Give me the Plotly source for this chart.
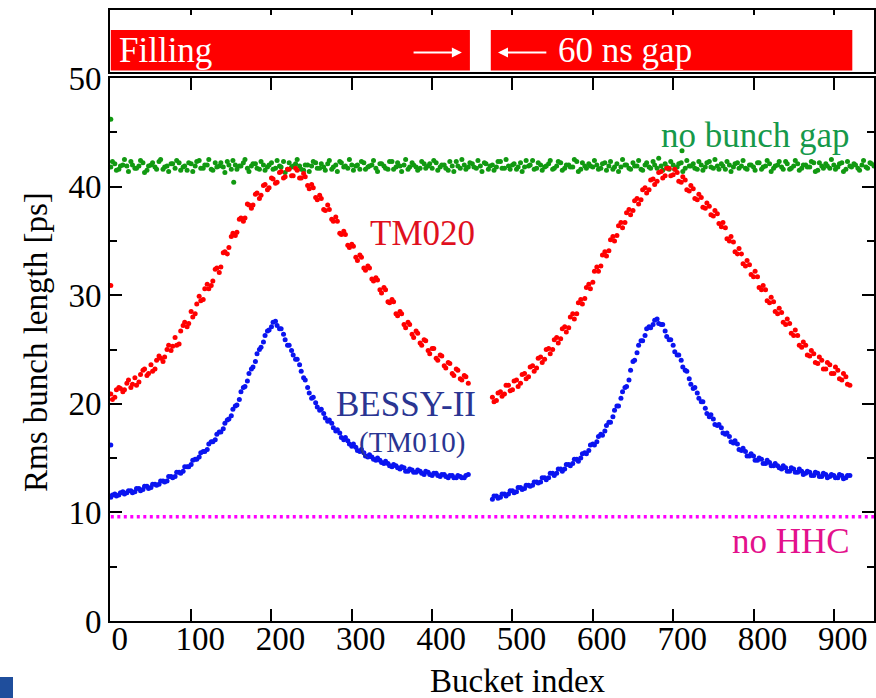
import plotly.graph_objects as go

FONT = "Liberation Serif"

# ---------------- data ----------------
# bucket indices (two interleaved samplings of every 5th bucket)
green_x = list(range(0, 951, 5))
green_x2 = list(range(2, 951, 5))
left_x = list(range(0, 446, 5))
left_x2 = list(range(2, 446, 5))
right_x = list(range(475, 921, 5))
right_x2 = list(range(477, 921, 5))

green_y = [
    41.8, 42.1, 41.6, 42.0, 41.9, 42.3, 41.7, 41.9, 42.2, 41.5,
    42.0, 41.8, 42.3, 41.6, 41.9, 42.1, 41.7, 42.2, 41.8, 41.5,
    42.1, 41.9, 42.4, 41.7, 42.0, 41.6, 42.2, 41.9, 41.8, 42.3,
    41.6, 42.0, 41.9, 42.2, 41.7, 41.9, 42.1, 41.6, 42.0, 41.8,
    42.2, 41.7, 41.9, 42.3, 41.6, 41.8, 42.1, 41.9, 41.5, 42.0,
    41.9, 42.2, 41.7, 41.8, 42.1, 41.6, 42.0, 42.3, 41.8, 41.7,
    42.0, 41.9, 41.6, 42.2, 41.8, 42.0, 41.7, 42.1, 41.9, 41.6,
    42.3, 41.8, 41.9, 42.0, 41.6, 42.2, 41.8, 41.7, 42.1, 41.9,
    41.7, 42.2, 41.8, 42.0, 41.5, 41.9, 42.3, 41.7, 42.0, 41.8,
    42.1, 41.7, 41.9, 42.2, 41.6, 42.0, 41.8, 42.3, 41.7, 41.9,
    42.0, 41.6, 42.2, 41.8, 41.9, 42.4, 41.7, 42.0, 41.8, 42.1,
    41.6, 41.9, 42.2, 41.7, 42.0, 41.8, 42.3, 41.6, 41.9, 42.1,
    41.8, 42.0, 41.7, 42.2, 41.9, 41.6, 42.1, 41.8, 42.0, 41.7,
    42.2, 41.9, 41.6, 42.0, 41.8, 42.3, 41.7, 41.9, 42.1, 41.6,
    42.0, 41.8, 42.2, 41.7, 41.9, 42.1, 41.6, 42.0, 41.8, 42.3,
    41.7, 41.9, 42.1, 41.6, 42.0, 41.8, 42.2, 41.9, 41.7, 42.0,
    41.8, 42.2, 41.6, 41.9, 42.1, 41.7, 42.0, 41.8, 42.3, 41.6,
    41.9, 42.1, 41.7, 42.0, 41.8, 42.2, 41.5, 41.9, 42.1, 41.7,
    42.0, 41.8, 42.2, 41.6, 41.9, 42.1, 41.7, 42.0, 41.8, 42.2,
    41.9,
]
green_y2 = [
    42.3, 41.5, 41.9, 42.5, 41.4, 42.0, 41.7, 42.4, 41.3, 41.9,
    42.2, 41.6, 42.5, 41.8, 41.4, 42.1, 42.4, 41.5, 41.9, 42.2,
    41.4, 42.3, 41.7, 42.0, 42.5, 41.5, 41.8, 42.2, 41.3, 42.0,
    42.4, 41.6, 41.9, 42.5, 41.4, 42.1, 41.7, 42.3, 41.5, 42.0,
    41.6, 42.4, 41.8, 41.3, 42.2, 41.9, 42.5, 41.6, 42.0, 41.4,
    42.3, 41.7, 42.1, 41.5, 42.4, 41.8, 41.4, 42.2, 41.9, 42.5,
    41.5, 42.0, 42.3, 41.6, 41.9, 42.4, 41.4, 42.1, 41.7, 42.3,
    41.6, 42.2, 41.4, 42.5, 41.8, 42.0, 41.5, 42.3, 41.7, 42.1,
    42.4, 41.5, 42.0, 41.7, 42.3, 41.4, 41.9, 42.5, 41.6, 42.2,
    41.8, 42.4, 41.4, 42.1, 41.9, 41.5, 42.3, 41.7, 42.5, 41.6,
    42.1, 41.8, 41.4, 42.4, 42.0, 41.6, 42.2, 41.5, 41.9, 42.4,
    41.7, 42.3, 41.5, 42.0, 41.8, 42.5, 41.4, 42.2, 41.7, 41.9,
    42.4, 41.6, 42.1, 41.5, 42.3, 41.8, 41.4, 42.5, 42.0, 41.6,
    41.9, 42.4, 41.5, 42.2, 41.7, 42.0, 42.6, 41.5, 41.8, 42.3,
    41.6, 42.1, 41.4, 42.4, 41.9, 41.7, 42.3, 41.5, 42.2, 41.8,
    42.5, 41.6, 41.9, 42.3, 41.4, 42.1, 41.7, 42.4, 41.6, 42.0,
    41.5, 42.2, 41.8, 42.4, 41.4, 41.9, 42.3, 41.6, 42.1, 41.7,
    42.4, 41.5, 42.0, 41.8, 42.3, 41.4, 42.2, 41.7, 41.9, 42.5,
    41.6, 42.1, 41.4, 42.3, 41.8, 42.0, 41.5, 42.4, 41.7, 42.1,
]

red_left = [
    20.9, 20.6, 21.5, 21.1, 21.9, 21.5, 22.4, 22.0, 23.1, 22.6,
    23.6, 23.2, 24.4, 23.9, 25.0, 24.9, 26.1, 25.5, 27.2, 27.1,
    28.5, 28.3, 29.9, 29.6, 31.0, 30.9, 32.4, 32.1, 33.9, 33.8,
    35.4, 35.5, 37.0, 36.8, 38.4, 38.0, 39.3, 38.9, 40.1, 39.7,
    40.8, 40.3, 41.3, 40.8, 41.6, 41.0, 41.7, 40.8, 41.2, 40.1,
    40.2, 39.0, 39.2, 37.9, 38.3, 37.0, 37.2, 35.7, 35.9, 34.6,
    34.7, 33.5, 33.7, 32.5, 32.7, 31.5, 31.6, 30.5, 30.7, 29.4,
    29.6, 28.3, 28.5, 27.3, 27.5, 26.4, 26.7, 25.6, 25.9, 24.9,
    25.1, 24.2, 24.5, 23.5, 23.8, 22.8, 23.2, 22.3, 22.6, 21.9,
]
red_left2 = [
    20.4, 21.3, 21.4, 21.3, 22.2, 21.8, 21.7, 22.7, 23.2, 22.8,
    23.0, 24.0, 24.2, 24.3, 25.4, 25.3, 25.4, 26.7, 27.5, 27.4,
    28.0, 29.2, 29.5, 30.6, 30.6, 31.3, 32.5, 32.6, 34.0, 34.4,
    35.7, 35.8, 37.1, 37.1, 38.3, 38.3, 39.4, 39.2, 40.2, 39.9,
    40.7, 40.4, 41.4, 40.9, 41.6, 41.0, 41.5, 40.8, 40.9, 39.8,
    39.9, 38.8, 38.9, 37.8, 37.9, 36.8, 36.8, 35.6, 35.6, 34.4,
    34.5, 33.2, 33.5, 32.3, 32.5, 31.3, 31.4, 30.2, 30.5, 29.3,
    29.4, 28.1, 28.3, 27.0, 27.3, 26.1, 26.5, 25.4, 25.8, 24.6,
    25.1, 24.0, 24.4, 23.3, 23.7, 22.6, 23.1, 22.2, 22.5,
]
red_right = [
    20.6, 20.3, 21.1, 20.9, 21.7, 21.3, 22.2, 21.9, 22.8, 22.5,
    23.5, 23.3, 24.3, 24.1, 25.1, 25.0, 26.1, 26.0, 27.1, 27.0,
    28.3, 28.3, 29.6, 29.7, 31.0, 31.2, 32.6, 32.7, 34.0, 34.1,
    35.4, 35.5, 36.7, 36.7, 37.9, 37.8, 38.9, 38.8, 39.9, 39.7,
    40.7, 40.5, 41.4, 41.0, 41.7, 41.1, 41.3, 40.4, 40.6, 39.6,
    39.8, 38.8, 39.0, 38.0, 38.2, 37.3, 37.5, 36.3, 36.2, 35.0,
    34.9, 33.8, 33.8, 32.7, 32.8, 31.7, 31.7, 30.5, 30.5, 29.3,
    29.4, 28.3, 28.4, 27.3, 27.4, 26.3, 26.3, 25.2, 25.4, 24.4,
    24.6, 23.7, 24.0, 23.2, 23.6, 22.8, 23.1, 22.2, 22.5, 21.7,
]
red_right2 = [
    20.2, 21.0, 20.7, 21.7, 21.2, 22.1, 21.6, 22.7, 22.3, 23.4,
    23.0, 24.2, 23.8, 25.0, 24.6, 25.9, 25.6, 26.9, 26.6, 28.0,
    27.8, 29.3, 29.2, 30.7, 30.6, 32.2, 32.2, 33.7, 33.6, 35.1,
    35.0, 36.4, 36.2, 37.6, 37.4, 38.7, 38.4, 39.7, 39.4, 40.6,
    40.2, 41.3, 40.8, 41.7, 41.0, 41.6, 40.5, 40.9, 39.7, 40.1,
    38.9, 39.3, 38.1, 38.5, 37.4, 37.8, 36.6, 36.7, 35.2, 35.4,
    34.0, 34.3, 32.9, 33.2, 31.9, 32.2, 30.7, 30.9, 29.5, 29.8,
    28.5, 28.8, 27.5, 27.8, 26.5, 26.8, 25.4, 25.7, 24.5, 24.9,
    23.8, 24.3, 23.2, 23.8, 22.8, 23.4, 22.3, 22.8, 21.8,
]
blue_left = [
    11.4, 11.7, 11.6, 11.9, 11.8, 12.0, 11.9, 12.2, 12.1, 12.4,
    12.3, 12.6, 12.6, 12.9, 12.9, 13.3, 13.3, 13.7, 13.8, 14.2,
    14.4, 14.9, 15.1, 15.6, 15.8, 16.5, 16.7, 17.4, 17.7, 18.5,
    18.9, 19.8, 20.4, 21.5, 22.1, 23.2, 23.9, 25.0, 25.7, 26.7,
    27.1, 27.6, 26.9, 26.4, 25.4, 24.9, 24.1, 23.6, 22.4, 21.5,
    20.5, 20.1, 19.4, 19.1, 18.4, 18.2, 17.5, 17.3, 16.7, 16.6,
    16.1, 16.0, 15.6, 15.5, 15.1, 15.1, 14.8, 14.8, 14.5, 14.5,
    14.2, 14.3, 14.0, 14.1, 13.8, 13.9, 13.7, 13.8, 13.5, 13.7,
    13.4, 13.6, 13.3, 13.5, 13.2, 13.4, 13.2, 13.3, 13.2, 13.5,
]
blue_left2 = [
    11.6, 11.5, 11.8, 11.7, 12.0, 11.8, 12.2, 12.0, 12.4, 12.2,
    12.6, 12.5, 12.9, 12.8, 13.3, 13.2, 13.7, 13.6, 14.2, 14.2,
    14.8, 14.9, 15.5, 15.6, 16.3, 16.5, 17.2, 17.4, 18.2, 18.6,
    19.5, 19.9, 21.1, 21.6, 22.8, 23.4, 24.6, 25.2, 26.3, 26.8,
    27.5, 27.2, 26.9, 25.9, 25.4, 24.5, 24.1, 23.0, 22.2, 21.0,
    20.6, 19.7, 19.5, 18.7, 18.5, 17.8, 17.6, 16.9, 16.9, 16.3,
    16.3, 15.7, 15.8, 15.2, 15.3, 14.9, 15.0, 14.6, 14.7, 14.3,
    14.4, 14.1, 14.2, 13.8, 14.0, 13.7, 13.9, 13.6, 13.8, 13.5,
    13.6, 13.4, 13.5, 13.3, 13.4, 13.2, 13.4, 13.2, 13.4,
]
blue_right = [
    11.2, 11.5, 11.4, 11.7, 11.7, 12.0, 11.9, 12.3, 12.2, 12.5,
    12.5, 12.8, 12.8, 13.2, 13.2, 13.6, 13.6, 14.0, 14.0, 14.4,
    14.5, 14.9, 15.0, 15.5, 15.7, 16.3, 16.5, 17.2, 17.5, 18.3,
    18.8, 19.8, 20.5, 21.5, 22.2, 23.9, 24.7, 25.8, 26.3, 27.1,
    27.3, 27.8, 27.3, 26.7, 25.9, 25.4, 24.5, 24.0, 23.1, 22.3,
    21.4, 21.0, 20.2, 19.6, 18.8, 18.6, 18.0, 17.8, 17.2, 17.0,
    16.4, 16.3, 15.7, 15.6, 15.2, 15.2, 14.8, 14.9, 14.5, 14.6,
    14.3, 14.3, 14.0, 14.1, 13.8, 14.0, 13.7, 13.8, 13.6, 13.7,
    13.4, 13.6, 13.3, 13.5, 13.3, 13.4, 13.2, 13.4, 13.2, 13.4,
]
blue_right2 = [
    11.5, 11.3, 11.7, 11.5, 12.0, 11.8, 12.3, 12.1, 12.5, 12.4,
    12.8, 12.7, 13.2, 13.0, 13.6, 13.4, 14.0, 13.8, 14.4, 14.3,
    14.9, 14.7, 15.4, 15.4, 16.2, 16.2, 17.0, 17.1, 18.0, 18.3,
    19.4, 19.8, 21.1, 21.6, 23.1, 24.0, 25.4, 25.8, 26.9, 27.0,
    27.7, 27.4, 27.3, 26.2, 25.9, 24.8, 24.5, 23.4, 23.0, 21.8,
    21.5, 20.5, 20.2, 19.1, 19.0, 18.1, 18.1, 17.3, 17.3, 16.5,
    16.6, 15.8, 15.9, 15.2, 15.4, 14.8, 15.0, 14.5, 14.8, 14.3,
    14.5, 14.1, 14.3, 13.8, 14.1, 13.7, 14.0, 13.5, 13.8, 13.4,
    13.7, 13.3, 13.6, 13.2, 13.5, 13.2, 13.5, 13.1, 13.4,
]

# isolated points
green_extra_x, green_extra_y = [0, 153, 711], [46.2, 40.4, 43.3]
red_extra_x, red_extra_y = [0], [30.9]
blue_extra_x, blue_extra_y = [0], [16.2]

hhc_level = 9.6
hhc_x = [0, 950]

# filling pattern (top panel)
fill_start = [0, 473]
fill_end = [447, 923]

# ---------------- figure ----------------
fig = go.Figure()

fig.add_trace(go.Scatter(
    x=hhc_x, y=[hhc_level] * len(hhc_x), mode="lines",
    line=dict(color="#ff00ff", width=3.5, dash="3px,3.5px"),
    hoverinfo="skip"))

MS = 5
fig.add_trace(go.Scatter(
    x=green_x + green_x2 + green_extra_x,
    y=green_y + green_y2 + green_extra_y, mode="markers",
    marker=dict(color="#119911", size=MS, line=dict(width=0))))

fig.add_trace(go.Scatter(
    x=left_x + left_x2 + right_x + right_x2 + blue_extra_x,
    y=blue_left + blue_left2 + blue_right + blue_right2 + blue_extra_y,
    mode="markers", marker=dict(color="#0a14f0", size=MS, line=dict(width=0))))

fig.add_trace(go.Scatter(
    x=left_x + left_x2 + right_x + right_x2 + red_extra_x,
    y=red_left + red_left2 + red_right + red_right2 + red_extra_y,
    mode="markers", marker=dict(color="#ff0000", size=MS, line=dict(width=0))))

fig.add_trace(go.Bar(
    x=[e - s for s, e in zip(fill_start, fill_end)], base=fill_start,
    y=[0.348] * len(fill_start), width=0.656, orientation="h",
    marker=dict(color="#ff0000", line=dict(width=0)),
    xaxis="x2", yaxis="y2"))

axis_common = dict(showline=True, linewidth=2, linecolor="black",
                   showgrid=False, zeroline=False, tickcolor="black",
                   automargin=False)

dom_x = [110 / 876, 874 / 876]

fig.update_layout(
    width=876, height=698, margin=dict(l=0, r=0, t=0, b=0, pad=0),
    paper_bgcolor="white", plot_bgcolor="white", showlegend=False,
    barmode="overlay",
    font=dict(family=FONT, size=33, color="black"),
    xaxis=dict(domain=dom_x, range=[-1, 950], anchor="y", tick0=0, dtick=100,
               ticks="inside", ticklen=12, tickwidth=2, mirror="ticks",
               ticklabelshift=9, ticklabelstandoff=-13,
               tickfont=dict(size=33), **axis_common),
    yaxis=dict(domain=[77 / 698, 620 / 698], range=[0, 50], anchor="x",
               tick0=0, dtick=10, ticks="inside", ticklen=12, tickwidth=2,
               mirror="ticks", tickfont=dict(size=33),
               minor=dict(ticks="inside", ticklen=7, tickwidth=2, dtick=5,
                          tick0=0, showgrid=False, tickcolor="black"),
               **axis_common),
    xaxis2=dict(domain=dom_x, matches="x", anchor="y2", side="top",
                tick0=0, dtick=100, ticks="inside", ticklen=5, tickwidth=2,
                showticklabels=False, mirror=True, **axis_common),
    yaxis2=dict(domain=[626.3 / 698, 688 / 698], range=[0, 1], anchor="x2",
                showticklabels=False, ticks="", mirror=True, **axis_common),
)

ann = []
# top panel texts / arrows
ann.append(dict(x=8, y=0.35, xref="x2", yref="y2", text="Filling",
                showarrow=False, xanchor="left", yanchor="middle",
                font=dict(family=FONT, size=35, color="white")))
ann.append(dict(x=554, y=0.35, xref="x2", yref="y2", text="60 ns gap",
                showarrow=False, xanchor="left", yanchor="middle",
                font=dict(family=FONT, size=35, color="white")))
ann.append(dict(x=437, y=0.31, ax=375, ay=0.31, xref="x2", yref="y2",
                axref="x2", ayref="y2", text="", showarrow=True,
                arrowhead=2, arrowsize=1, arrowwidth=2, arrowcolor="white"))
ann.append(dict(x=482, y=0.31, ax=544, ay=0.31, xref="x2", yref="y2",
                axref="x2", ayref="y2", text="", showarrow=True,
                arrowhead=2, arrowsize=1, arrowwidth=2, arrowcolor="white"))

# series labels
ann.append(dict(x=802, y=44.75, xref="x", yref="y", text="no bunch gap",
                showarrow=False, font=dict(family=FONT, size=35, color="#16994a")))
ann.append(dict(x=388, y=35.7, xref="x", yref="y", text="TM020",
                showarrow=False, font=dict(family=FONT, size=35, color="#e0101e")))
ann.append(dict(x=367, y=19.9, xref="x", yref="y", text="BESSY-II",
                showarrow=False, font=dict(family=FONT, size=35, color="#2a3592")))
ann.append(dict(x=375, y=16.4, xref="x", yref="y", text="(TM010)",
                showarrow=False, font=dict(family=FONT, size=29, color="#2a3592")))
ann.append(dict(x=847, y=7.3, xref="x", yref="y", text="no HHC",
                showarrow=False, font=dict(family=FONT, size=35, color="#e3118c")))

# axis titles
ann.append(dict(x=518 / 876, y=(698 - 681) / 698, xref="paper", yref="paper",
                xanchor="center", yanchor="middle",
                text="Bucket index", showarrow=False,
                font=dict(family=FONT, size=33, color="black")))
ann.append(dict(x=36 / 876, y=(698 - 342) / 698, xref="paper", yref="paper",
                xanchor="center", yanchor="middle",
                text="Rms bunch length [ps]", showarrow=False, textangle=-90,
                font=dict(family=FONT, size=33, color="black")))
fig.update_layout(annotations=ann)

# small logo fragment at lower-left corner
fig.add_shape(type="rect", xref="paper", yref="paper",
              x0=0, x1=13 / 876, y0=0, y1=21 / 698,
              fillcolor="#1f4e9c", line=dict(width=0), layer="above")

fig.write_html("out.html")
